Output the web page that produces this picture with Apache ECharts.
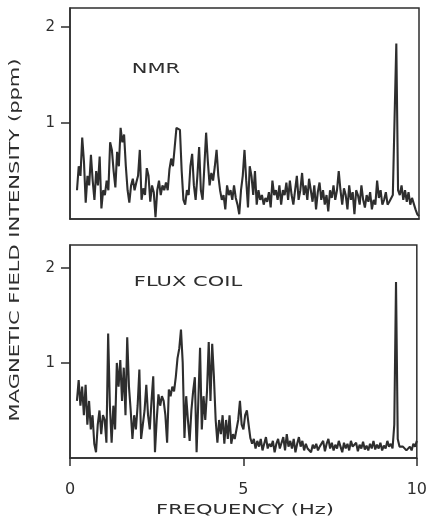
<!DOCTYPE html>
<html>
<head>
<meta charset="utf-8">
<script src="https://cdn.jsdelivr.net/npm/echarts@6/dist/echarts.min.js"></script>
<style>html,body{margin:0;padding:0;background:#fff;}#c{width:430px;height:520px;}</style>
</head>
<body>
<div id="c"></div>
<script>
const freq = [
 0.2,0.25,0.3,0.35,0.4,0.45,0.5,0.55,0.6,0.65,0.7,0.75,0.8,0.85,0.9,0.95,
 1.0,1.05,1.1,1.15,1.2,1.25,1.3,1.35,1.4,1.45,1.5,1.55,1.6,1.65,1.7,1.75,1.8,1.85,1.9,1.95,
 2.0,2.05,2.1,2.15,2.2,2.25,2.3,2.35,2.4,2.45,2.5,2.55,2.6,2.65,2.7,2.75,2.8,2.85,2.9,2.95,
 3.0,3.05,3.1,3.15,3.2,3.25,3.3,3.35,3.4,3.45,3.5,3.55,3.6,3.65,3.7,3.75,3.8,3.85,3.9,3.95,
 4.0,4.05,4.1,4.15,4.2,4.25,4.3,4.35,4.4,4.45,4.5,4.55,4.6,4.65,4.7,4.75,4.8,4.85,4.9,4.95,
 5.0,5.05,5.1,5.15,5.2,5.25,5.3,5.35,5.4,5.45,5.5,5.55,5.6,5.65,5.7,5.75,5.8,5.85,5.9,5.95,
 6.0,6.05,6.1,6.15,6.2,6.25,6.3,6.35,6.4,6.45,6.5,6.55,6.6,6.65,6.7,6.75,6.8,6.85,6.9,6.95,
 7.0,7.05,7.1,7.15,7.2,7.25,7.3,7.35,7.4,7.45,7.5,7.55,7.6,7.65,7.7,7.75,7.8,7.85,7.9,7.95,
 8.0,8.05,8.1,8.15,8.2,8.25,8.3,8.35,8.4,8.45,8.5,8.55,8.6,8.65,8.7,8.75,8.8,8.85,8.9,8.95,
 9.0,9.05,9.1,9.15,9.2,9.25,9.3,9.35,9.4,9.45,9.5,9.55,9.6,9.65,9.7,9.75,9.8,9.85,9.9,9.95,
 10.0
];
const nmr = [
 0.30,0.55,0.45,0.85,0.60,0.17,0.45,0.35,0.67,0.40,0.20,0.50,0.35,0.65,0.11,0.30,
 0.25,0.40,0.30,0.80,0.72,0.50,0.33,0.70,0.55,0.95,0.80,0.88,0.55,0.30,0.17,0.35,0.42,0.30,0.38,0.45,
 0.72,0.20,0.32,0.25,0.53,0.45,0.18,0.35,0.28,0.02,0.30,0.40,0.25,0.35,0.30,0.38,0.30,0.52,0.63,0.55,
 0.75,0.95,0.96,0.93,0.50,0.20,0.15,0.30,0.25,0.55,0.68,0.35,0.20,0.45,0.75,0.30,0.20,0.55,0.90,0.60,
 0.35,0.48,0.40,0.55,0.72,0.45,0.30,0.20,0.25,0.10,0.35,0.25,0.30,0.20,0.35,0.22,0.15,0.05,0.30,0.45,
 0.72,0.40,0.12,0.55,0.45,0.25,0.50,0.15,0.30,0.20,0.25,0.15,0.22,0.18,0.28,0.12,0.40,0.25,0.30,0.20,
 0.35,0.15,0.30,0.25,0.38,0.20,0.40,0.25,0.15,0.30,0.45,0.20,0.30,0.48,0.25,0.35,0.20,0.42,0.30,0.18,
 0.35,0.10,0.28,0.38,0.20,0.30,0.15,0.25,0.08,0.30,0.22,0.35,0.20,0.30,0.50,0.30,0.15,0.32,0.25,0.10,
 0.35,0.20,0.28,0.05,0.30,0.25,0.15,0.35,0.20,0.12,0.25,0.18,0.28,0.10,0.20,0.15,0.40,0.22,0.30,0.15,
 0.20,0.28,0.15,0.18,0.20,0.25,1.05,1.83,0.30,0.25,0.35,0.20,0.30,0.18,0.28,0.15,0.22,0.20,0.10,0.05,
 0.03
];
const fluxCoil = [
 0.60,0.82,0.55,0.75,0.45,0.77,0.35,0.60,0.30,0.45,0.15,0.06,0.35,0.50,0.25,0.45,
 0.40,0.16,1.31,0.55,0.16,0.55,0.30,1.00,0.75,1.03,0.60,0.95,0.45,1.27,0.75,0.50,0.20,0.45,0.30,0.55,
 0.93,0.20,0.35,0.50,0.77,0.45,0.30,0.60,0.86,0.06,0.40,0.67,0.55,0.65,0.60,0.45,0.16,0.72,0.65,0.75,
 0.70,0.85,1.05,1.15,1.35,1.00,0.21,0.65,0.40,0.18,0.50,0.70,0.85,0.06,0.60,1.16,0.30,0.65,0.40,0.70,
 1.22,0.60,1.20,0.85,0.40,0.16,0.40,0.25,0.45,0.15,0.40,0.20,0.45,0.15,0.25,0.20,0.30,0.40,0.60,0.35,
 0.30,0.45,0.50,0.35,0.21,0.15,0.20,0.10,0.18,0.12,0.20,0.08,0.15,0.22,0.10,0.15,0.12,0.18,0.06,0.15,
 0.20,0.10,0.16,0.22,0.08,0.25,0.12,0.18,0.10,0.20,0.06,0.15,0.22,0.12,0.18,0.08,0.15,0.10,0.12,0.06,
 0.14,0.10,0.15,0.08,0.12,0.10,0.18,0.07,0.15,0.20,0.10,0.16,0.08,0.14,0.10,0.18,0.12,0.06,0.16,0.10,
 0.15,0.08,0.18,0.12,0.10,0.16,0.07,0.14,0.10,0.17,0.09,0.13,0.08,0.15,0.10,0.18,0.09,0.14,0.10,0.16,
 0.08,0.13,0.10,0.18,0.12,0.15,0.10,0.35,1.85,0.20,0.12,0.14,0.12,0.13,0.08,0.10,0.12,0.08,0.15,0.12,
 0.18
];
const yTickValues = [1, 2];
const xTickValues = [0, 5, 10];
const panelNames = ['NMR', 'FLUX COIL'];
const xTitle = 'FREQUENCY (Hz)';
const yTitle = 'MAGNETIC FIELD INTENSITY (ppm)';

const INK = '#2e2e2e';
const FONT = 'DejaVu Sans';
const chart = echarts.init(document.getElementById('c'), null, {renderer: 'canvas'});
const pairs = vals => freq.map((f, i) => [f, vals[i]]);

const yAxisBase = (gi, max) => ({
  type: 'value', gridIndex: gi, min: 0, max: max, interval: 1,
  splitLine: {show: false},
  axisLine: {show: true, lineStyle: {color: INK, width: 1.5}},
  axisTick: {show: true, inside: false, length: 9, customValues: yTickValues, lineStyle: {color: INK, width: 1.5}},
  axisLabel: {show: true, customValues: yTickValues, margin: 15, color: INK, fontFamily: FONT, fontSize: 15}
});

chart.setOption({
  animation: false,
  backgroundColor: '#fff',
  grid: [
    {left: 70, right: 11, top: 8, height: 211, show: true, borderColor: INK, borderWidth: 1.5, backgroundColor: 'transparent'},
    {left: 70, right: 11, top: 245, height: 213, show: true, borderColor: INK, borderWidth: 1.5, backgroundColor: 'transparent'}
  ],
  xAxis: [
    {type: 'value', gridIndex: 0, min: 0, max: 10, interval: 5,
     splitLine: {show: false}, axisLine: {show: true, lineStyle: {color: INK, width: 1.5}},
     axisTick: {show: false}, axisLabel: {show: false}},
    {type: 'value', gridIndex: 1, min: 0, max: 10, interval: 5,
     splitLine: {show: false}, axisLine: {show: true, lineStyle: {color: INK, width: 1.5}},
     axisTick: {show: true, length: 8, customValues: xTickValues, lineStyle: {color: INK, width: 1.5}},
     axisLabel: {show: true, customValues: xTickValues, margin: 24, color: INK, fontFamily: FONT, fontSize: 16}}
  ],
  yAxis: [yAxisBase(0, 2.2), yAxisBase(1, 2.24)],
  series: [
    {type: 'line', xAxisIndex: 0, yAxisIndex: 0, data: pairs(nmr), showSymbol: false,
     lineStyle: {color: INK, width: 2.1}, silent: true},
    {type: 'line', xAxisIndex: 1, yAxisIndex: 1, data: pairs(fluxCoil), showSymbol: false,
     lineStyle: {color: INK, width: 2.1}, silent: true}
  ],
  graphic: [
    {type: 'text', x: 15, y: 240, rotation: Math.PI / 2, scaleX: 1.5,
     style: {text: yTitle, font: '14px "' + FONT + '"', fill: INK, align: 'center', verticalAlign: 'middle', textAlign: 'center', textVerticalAlign: 'middle'}},
    {type: 'text', x: 245, y: 510, scaleX: 1.5,
     style: {text: xTitle, font: '14px "' + FONT + '"', fill: INK, align: 'center', verticalAlign: 'middle', textAlign: 'center', textVerticalAlign: 'middle'}},
    {type: 'text', x: 156, y: 69, scaleX: 1.5,
     style: {text: panelNames[0], font: '14px "' + FONT + '"', fill: INK, align: 'center', verticalAlign: 'middle', textAlign: 'center', textVerticalAlign: 'middle'}},
    {type: 'text', x: 188, y: 282, scaleX: 1.5,
     style: {text: panelNames[1], font: '14px "' + FONT + '"', fill: INK, align: 'center', verticalAlign: 'middle', textAlign: 'center', textVerticalAlign: 'middle'}}
  ]
});
</script>
</body>
</html>
